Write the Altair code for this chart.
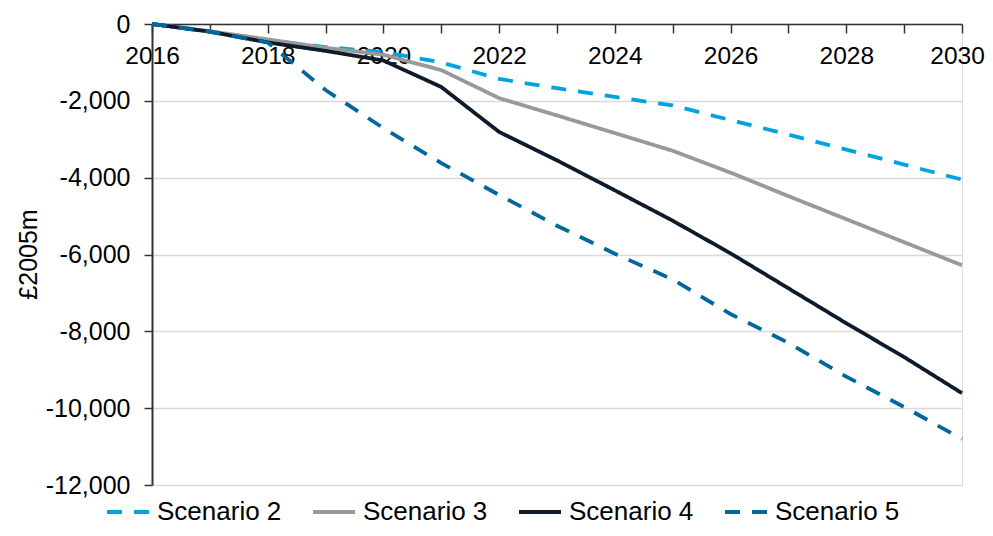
import altair as alt
import pandas as pd

years = list(range(2016, 2031))
scenario_2 = [0, -190, -420, -600, -730, -1000, -1430, -1670, -1900, -2120, -2500, -2880, -3270, -3660, -4050]
scenario_3 = [0, -190, -400, -620, -800, -1200, -1930, -2380, -2840, -3300, -3870, -4480, -5080, -5680, -6280]
scenario_4 = [0, -200, -480, -700, -950, -1640, -2810, -3550, -4330, -5120, -5970, -6880, -7790, -8670, -9610]
scenario_5 = [0, -200, -480, -1720, -2710, -3620, -4450, -5250, -5980, -6650, -7550, -8300, -9180, -9970, -10800]

series_names = ["Scenario 2", "Scenario 3", "Scenario 4", "Scenario 5"]
series_values = [scenario_2, scenario_3, scenario_4, scenario_5]
series_colors = ["#00A3E0", "#999999", "#0D1B2A", "#00679E"]
series_dash = [[15, 12], [1, 0], [1, 0], [15, 12]]
y_ticks = [0, -2000, -4000, -6000, -8000, -10000, -12000]

rows = []
for name, vals in zip(series_names, series_values):
    for y, v in zip(years, vals):
        rows.append({"year": y, "value": v, "series": name})
df = pd.DataFrame(rows)

FONT = "Liberation Sans"

chart = alt.Chart(df).mark_line(strokeWidth=3.8).encode(
    x=alt.X("year:Q",
            scale=alt.Scale(domain=[2016, 2030], nice=False, zero=False),
            axis=alt.Axis(
                title=None, values=years, format="d",
                labelExpr="datum.value % 2 == 0 ? datum.label : ''",
                orient="bottom", offset=-461, grid=False,
                tickSize=9, tickWidth=1.5, tickColor="#333333",
                domainColor="#333333", domainWidth=1.5,
                labelFontSize=24.5, labelFont=FONT, labelColor="#000000",
                labelOffset={"condition": {"test": "datum.value == 2030", "value": -5}, "value": 0},
                labelPadding=11, labelFlush=False, labelBound=False, labelOverlap=False)),
    y=alt.Y("value:Q",
            scale=alt.Scale(domain=[-12000, 0], nice=False),
            axis=alt.Axis(
                title="£2005m", values=y_ticks,
                labelExpr="datum.value == 0 ? '0' : '-' + format(abs(datum.value), ',.0f')",
                grid=True, gridColor="#D9D9D9", gridWidth=1.5,
                tickSize=8, tickWidth=1.5, tickColor="#333333",
                domainColor="#333333", domainWidth=2,
                labelFontSize=25, labelFont=FONT, labelColor="#000000", labelPadding=14,
                titleFontSize=25, titleFont=FONT, titleFontWeight="normal", titleColor="#000000",
                titleX=-124, titleY=230, titleAngle=-90, titleAlign="center", titleBaseline="middle")),
    color=alt.Color("series:N",
                    scale=alt.Scale(domain=series_names, range=series_colors),
                    legend=alt.Legend(
                        title=None, orient="none", direction="horizontal",
                        legendX=-47, legendY=465,
                        symbolType="stroke", symbolSize=1764, symbolStrokeWidth=4,
                        labelFontSize=26, labelFont=FONT, labelColor="#000000",
                        labelOffset=6, columnPadding=23)),
    strokeDash=alt.StrokeDash("series:N",
                              scale=alt.Scale(domain=series_names, range=series_dash),
                              legend=None),
    order=alt.Order("year:Q"),
).properties(
    width=810, height=461,
    autosize=alt.AutoSizeParams(type="none"),
    padding={"left": 144, "top": 16, "right": 23, "bottom": 43},
).configure_view(stroke=None).configure(background="white")

chart.save("out.html", embed_options={"renderer": "svg", "actions": False})
